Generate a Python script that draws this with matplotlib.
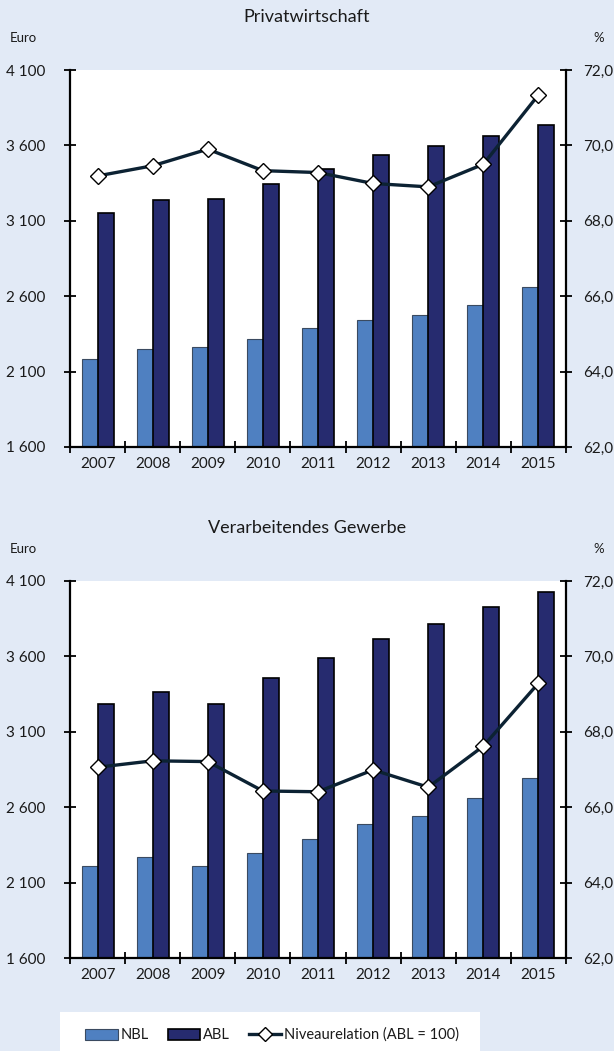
import numpy as np
import matplotlib.pyplot as plt
from matplotlib.patches import Rectangle
from matplotlib.lines import Line2D
from matplotlib.patches import Patch

plt.rcParams['font.family'] = ['Lato', 'DejaVu Sans']

years = ['2007', '2008', '2009', '2010', '2011', '2012', '2013', '2014', '2015']

# Privatwirtschaft (Euro / %)
priv_nbl = [2183, 2248, 2265, 2318, 2386, 2440, 2473, 2541, 2663]
priv_abl = [3153, 3238, 3244, 3346, 3443, 3538, 3594, 3662, 3737]
priv_rel = [69.19, 69.46, 69.90, 69.33, 69.28, 68.99, 68.90, 69.50, 71.34]

# Verarbeitendes Gewerbe (Euro / %)
verg_nbl = [2210, 2268, 2212, 2298, 2387, 2491, 2544, 2659, 2794]
verg_abl = [3286, 3364, 3282, 3455, 3589, 3713, 3817, 3925, 4027]
verg_rel = [67.06, 67.23, 67.21, 66.43, 66.41, 66.99, 66.53, 67.62, 69.29]

left_ticks = [1600, 2100, 2600, 3100, 3600, 4100]
left_labels = ['1 600', '2 100', '2 600', '3 100', '3 600', '4 100']
right_ticks = [62, 64, 66, 68, 70, 72]
right_labels = ['62,0', '64,0', '66,0', '68,0', '70,0', '72,0']

BG = '#e2eaf6'
NBL_COLOR = '#4f80c1'
ABL_COLOR = '#262b6f'
LINE_COLOR = '#0c2233'
TXT = '#1a1a1a'

W, H = 614, 1051
fig = plt.figure(figsize=(W / 100, H / 100), dpi=100, facecolor=BG)


def panel(top_px, title, nbl, abl, rel):
    ax = fig.add_axes([70 / W, 1 - (top_px + 377) / H, 496 / W, 377 / H])
    ax.set_facecolor('white')
    x = np.arange(len(years))
    bw = 0.29
    ax.bar(x - bw / 2, np.array(nbl) - 1600, bw, bottom=1600, color=NBL_COLOR,
           edgecolor='#3a4a60', linewidth=0.8, zorder=2)
    ax.bar(x + bw / 2, np.array(abl) - 1600, bw, bottom=1600, color=ABL_COLOR,
           edgecolor='black', linewidth=1.2, zorder=2)
    ax.set_xlim(-0.5, len(years) - 0.5)
    ax.set_ylim(1600, 4100)
    ax.set_yticks(left_ticks)
    ax.set_yticklabels(left_labels)
    ax.set_xticks(np.arange(-0.5, len(years)), minor=False)
    ax.set_xticklabels([])
    ax.set_xticks(x, minor=True)
    ax.set_xticklabels(years, minor=True)
    ax.tick_params(axis='x', which='major', direction='inout', length=9, width=1.3)
    ax.tick_params(axis='x', which='minor', length=0, pad=7, labelsize=11, labelcolor=TXT)
    ax.tick_params(axis='y', direction='inout', length=9, width=1.3, pad=13,
                   labelsize=11, labelcolor=TXT)
    ax.spines['top'].set_visible(False)
    ax.spines['right'].set_visible(False)
    for s in ['left', 'bottom']:
        ax.spines[s].set_linewidth(1.6)

    ax2 = ax.twinx()
    ax2.plot(x, rel, color=LINE_COLOR, linewidth=2.4, marker='D', markersize=8,
             markerfacecolor='white', markeredgecolor='black', markeredgewidth=1.0,
             zorder=3)
    ax2.set_ylim(62, 72)
    ax2.set_yticks(right_ticks)
    ax2.set_yticklabels(right_labels)
    ax2.tick_params(axis='y', direction='inout', length=9, width=1.3, pad=8,
                    labelsize=11, labelcolor=TXT)
    ax2.spines['top'].set_visible(False)
    ax2.spines['left'].set_visible(False)
    ax2.spines['bottom'].set_visible(False)
    ax2.spines['right'].set_linewidth(1.6)
    ax2.set_xlim(-0.5, len(years) - 0.5)

    fig.text(307 / W, 1 - (top_px - 53) / H, title, ha='center', va='center',
             fontsize=13, color=TXT)
    fig.text(10 / W, 1 - (top_px - 32) / H, 'Euro', ha='left', va='center',
             fontsize=9.5, color=TXT)
    fig.text(604 / W, 1 - (top_px - 32) / H, '%', ha='right', va='center',
             fontsize=9.5, color=TXT)


panel(70, 'Privatwirtschaft', priv_nbl, priv_abl, priv_rel)
panel(581, 'Verarbeitendes Gewerbe', verg_nbl, verg_abl, verg_rel)

# legend box
fig.patches.append(Rectangle((60 / W, 0), 420 / W, 39 / H, transform=fig.transFigure,
                             facecolor='white', edgecolor='none', zorder=0))
handles = [
    Patch(facecolor=NBL_COLOR, edgecolor='#3a4a60', linewidth=0.8),
    Patch(facecolor=ABL_COLOR, edgecolor='black', linewidth=1.2),
    Line2D([], [], color=LINE_COLOR, linewidth=2.4, marker='D', markersize=7,
           markerfacecolor='white', markeredgecolor='black', markeredgewidth=1.0),
]
fig.legend(handles, ['NBL', 'ABL', 'Niveaurelation (ABL = 100)'], ncol=3,
           loc='center', bbox_to_anchor=(272 / W, 1 - 1035 / H), frameon=False,
           fontsize=10.5, handlelength=2.2, handleheight=0.8, handletextpad=0.2,
           columnspacing=1.3, labelcolor=TXT)

fig.savefig('out.png', dpi=100, facecolor=BG)
